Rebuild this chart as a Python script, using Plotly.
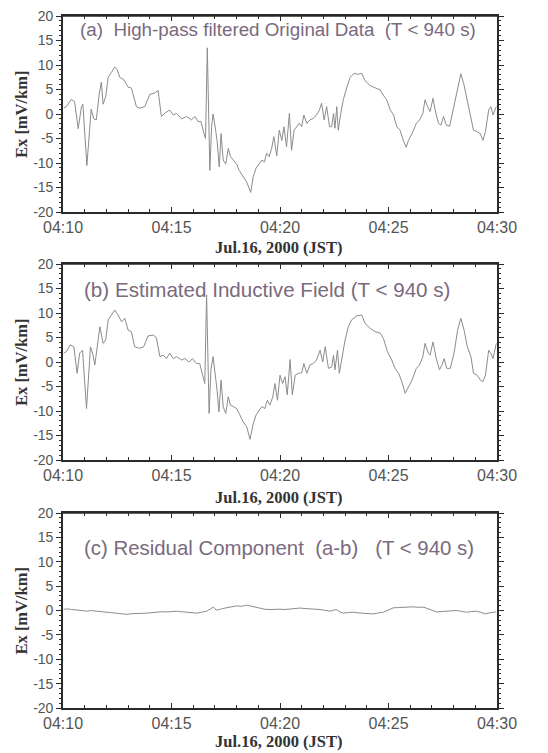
import pandas as pd
import plotly.graph_objects as go

# ---------------- data (seconds after 04:10:00 JST, Ex in mV/km) ----------------
t_a = [2, 9, 23, 32, 42, 51, 55, 66, 78, 85, 92, 100, 106, 111, 118, 125, 134, 143, 150, 157,
       168, 180, 189, 203, 212, 226, 240, 254, 263, 272, 282, 295, 305, 314, 328, 342, 355, 365, 374, 381,
       390, 394, 399, 402, 406, 411, 415, 420, 426, 432, 437, 443, 450, 457, 463, 471, 480, 487, 498, 508,
       519, 526, 534, 543, 550, 557, 563, 570, 577, 583, 591, 598, 605, 611, 618, 626, 632, 639, 646, 653,
       660, 666, 674, 683, 692, 701, 709, 715, 722, 729, 737, 743, 748, 752, 757, 761, 768, 775, 785, 794,
       805, 814, 826, 835, 849, 863, 877, 886, 895, 905, 914, 923, 932, 941, 949, 955, 965, 977, 986, 995,
       1001, 1008, 1015, 1023, 1029, 1038, 1045, 1052, 1060, 1069, 1080, 1091, 1100, 1108, 1117, 1126, 1135, 1145, 1154, 1161,
       1168, 1177, 1183, 1189, 1198]
ex_a = [1.2, 1.5, 3.0, 2.5, -3.0, 1.5, 2.0, -10.5, 1.0, -1.0, -1.2, 4.0, 6.5, 2.0, 3.5, 7.5, 8.5, 9.6, 9.0, 7.5,
        7.0, 5.5, 5.3, 1.5, 1.2, 1.5, 4.0, 4.3, 4.8, -0.5, 0.2, 0.8, -0.2, 0.1, -1.0, -0.5, -1.2, -0.5, -1.6, -1.5,
        -4.0, -5.0, 13.5, 4.0, -11.5, -2.5, 0.0, -2.3, -5.4, -10.8, -4.0, -9.4, -10.2, -7.0, -8.7, -9.4, -10.2, -11.5, -12.8, -13.9,
        -16.0, -12.8, -11.0, -10.2, -9.4, -9.8, -8.0, -8.7, -7.0, -4.6, -8.5, -3.3, -5.4, -2.6, -6.7, 0.1, -7.4, -3.3, -2.6, -1.9,
        -2.6, -0.2, -1.9, -1.2, -0.9, -0.2, 0.8, 2.2, -1.2, 1.5, -2.6, -2.6, 0.1, -2.9, 1.5, -3.3, 0.1, 2.9, 5.5, 7.5,
        8.3, 8.1, 8.3, 6.8, 5.8, 5.3, 4.9, 3.8, 2.9, 0.8, -0.2, -2.6, -3.3, -5.4, -6.8, -5.4, -4.0, -1.9, -1.2, 0.1,
        2.9, 1.5, 0.5, 3.2, 0.8, -1.9, -2.3, -0.5, -2.3, -2.5, 1.5, 5.5, 8.2, 6.2, 2.9, 0.1, -3.3, -3.6, -4.0, -5.4,
        -3.6, 0.8, 1.5, -0.2, 1.5]

t_b = [2, 9, 20, 30, 39, 46, 54, 65, 76, 83, 88, 97, 102, 111, 118, 125, 134, 143, 152, 162,
       171, 180, 189, 198, 212, 223, 235, 249, 258, 268, 277, 286, 295, 305, 314, 328, 337, 349, 358, 369,
       378, 388, 392, 397, 400, 404, 409, 415, 420, 426, 431, 437, 443, 450, 457, 463, 471, 480, 487, 498,
       508, 517, 526, 534, 543, 550, 558, 565, 572, 580, 586, 593, 600, 607, 614, 620, 628, 634, 642, 651,
       660, 666, 674, 683, 692, 701, 711, 718, 725, 734, 743, 748, 752, 759, 764, 771, 780, 789, 798, 812,
       826, 835, 849, 863, 877, 886, 897, 909, 918, 928, 937, 946, 955, 965, 977, 986, 995, 1001, 1010, 1015,
       1023, 1032, 1041, 1048, 1054, 1061, 1071, 1082, 1091, 1100, 1109, 1118, 1128, 1135, 1145, 1154, 1161, 1168, 1177, 1183,
       1189, 1198]
ex_b = [1.8, 2.1, 3.5, 3.1, -2.3, 1.8, 2.4, -9.5, 3.1, 1.4, -0.6, 5.2, 7.2, 3.8, 4.5, 8.6, 9.6, 10.6, 9.6, 8.2,
        8.9, 6.5, 6.2, 3.1, 2.8, 3.1, 5.3, 5.5, 5.0, 1.1, 1.4, 0.7, 1.8, 0.7, 1.1, 0.4, 0.7, 0.0, 0.7, -0.3,
        -0.3, -3.7, -4.4, 13.7, 4.5, -10.5, -1.6, 1.1, -2.0, -5.7, -10.2, -3.7, -9.2, -10.5, -7.1, -8.8, -9.1, -9.5, -10.5, -12.2,
        -13.2, -15.8, -12.6, -10.8, -9.8, -9.1, -9.5, -7.8, -8.8, -7.1, -4.4, -7.8, -2.7, -4.4, -3.0, -6.7, 0.5, -6.7, -2.7, -2.3,
        -2.2, -0.3, -2.3, -0.6, -0.3, 0.4, 2.4, 0.0, 3.1, -1.3, -1.0, 1.4, -1.6, 2.4, -2.3, 1.1, 4.5, 7.2, 8.6, 9.4,
        9.6, 7.9, 6.9, 6.2, 5.9, 4.8, 2.1, 0.4, -1.3, -2.3, -4.0, -6.4, -5.0, -3.7, -1.3, -0.6, 1.1, 3.8, 1.8, 1.4,
        4.1, 0.7, -1.6, -0.6, 0.7, -1.3, -1.3, 2.1, 6.5, 8.9, 6.5, 3.1, 1.1, -2.3, -2.7, -3.7, -4.0, -2.7, 2.4, 1.8,
        0.7, 3.8]

t_c = [2, 10, 24, 38, 52, 65, 79, 93, 107, 121, 134, 148, 162, 176, 190, 204, 217, 231, 245, 259,
       273, 287, 300, 314, 328, 342, 356, 370, 383, 397, 407, 416, 423, 430, 441, 453, 466, 480, 494, 508,
       517, 526, 535, 545, 558, 572, 586, 600, 614, 628, 641, 655, 669, 683, 697, 711, 724, 738, 748, 757,
       766, 775, 789, 803, 816, 830, 844, 858, 872, 886, 900, 913, 927, 941, 955, 969, 982, 996, 1006, 1015,
       1024, 1033, 1047, 1061, 1075, 1089, 1102, 1116, 1130, 1144, 1156, 1167, 1178, 1190, 1198]
ex_c = [0.2, 0.35, 0.2, 0.15, 0.0, -0.15, 0.0, -0.15, -0.3, -0.35, -0.45, -0.55, -0.7, -0.8, -0.65, -0.7, -0.6, -0.55, -0.4, -0.4,
        -0.25, -0.3, -0.2, -0.15, -0.25, -0.35, -0.5, -0.55, -0.35, -0.15, 0.3, 0.7, 0.1, 0.15, 0.4, 0.55, 0.7, 0.95, 0.85, 1.1,
        0.95, 0.8, 0.5, 0.35, 0.25, 0.2, 0.3, 0.27, 0.2, 0.35, 0.4, 0.5, 0.4, 0.35, 0.3, 0.2, 0.05, -0.15, 0.1, 0.15,
        -0.3, -0.55, -0.4, -0.35, -0.5, -0.55, -0.6, -0.7, -0.5, -0.35, 0.1, 0.55, 0.6, 0.7, 0.8, 0.75, 0.65, 0.7, 0.45, 0.15,
        -0.1, -0.3, -0.2, -0.15, -0.05, 0.0, -0.2, -0.35, -0.2, -0.15, -0.4, -0.7, -0.5, -0.35, -0.3]

panel_titles = ["(a)  High-pass filtered Original Data  (T < 940 s)",
                "(b) Estimated Inductive Field (T < 940 s)",
                "(c) Residual Component  (a-b)   (T < 940 s)"]
x_tick_labels = ["04:10", "04:15", "04:20", "04:25", "04:30"]
y_ticks = [-20, -15, -10, -5, 0, 5, 10, 15, 20]
x_title = "Jul.16, 2000 (JST)"
y_title = "Ex [mV/km]"

# ---------------- figure ----------------
base = pd.Timestamp("2000-07-16 04:10:00")
def to_time(secs):
    return base + pd.to_timedelta(secs, unit="s")

x_tick_vals = [base + pd.Timedelta(minutes=5 * i) for i in range(5)]
x_range = [base, base + pd.Timedelta(minutes=20)]

W, H = 548, 753
L_PG, R_PG = 63, 497
panels_pg = [(16, 212), (264, 460), (513, 708)]
ML, MR = L_PG, W - R_PG
MT, MB = panels_pg[0][0], H - panels_pg[-1][1]
PH = H - MT - MB
PW = W - ML - MR
def py(p):  # pixel y -> paper
    return 1 - (p - MT) / PH
def px(p):
    return (p - ML) / PW

fig = go.Figure()
line_col = "#8c8c8c"
axis_col = "#2a2a2a"
tick_font_y = dict(family="Arial, Liberation Sans, sans-serif", size=14, color="#555555")
tick_font_x = dict(family="Arial, Liberation Sans, sans-serif", size=16, color="#555555")
title_font = dict(family="Liberation Serif, Times New Roman, serif", size=16.5, color="#333333")

layout = dict(width=W, height=H, margin=dict(l=ML, r=MR, t=MT, b=MB),
              paper_bgcolor="white", plot_bgcolor="white", showlegend=False)

series = [(t_a, ex_a), (t_b, ex_b), (t_c, ex_c)]
for i, (t, v) in enumerate(series):
    sfx = "" if i == 0 else str(i + 1)
    fig.add_trace(go.Scatter(x=to_time(t), y=v, mode="lines",
                             line=dict(color=line_col, width=1),
                             xaxis="x" + sfx, yaxis="y" + sfx, showlegend=False))
    top, bot = panels_pg[i]
    layout["xaxis" + sfx] = dict(
        type="date", range=x_range, domain=[0, 1], anchor="y" + sfx,
        tickmode="array", tickvals=x_tick_vals, ticktext=x_tick_labels,
        ticks="inside", ticklen=5, tickwidth=1.2, tickcolor=axis_col,
        minor=dict(dtick=60000, ticks="inside", ticklen=3, tickcolor=axis_col, showgrid=False),
        showline=True, linecolor=axis_col, linewidth=1.6, mirror="ticks",
        showgrid=False, zeroline=False, automargin=False, tickfont=tick_font_x,
    )
    layout["yaxis" + sfx] = dict(
        anchor="x" + sfx, domain=[py(bot), py(top)], range=[-20, 20],
        tickmode="array", tickvals=y_ticks, ticktext=[str(v) for v in y_ticks],
        ticks="outside", ticklen=5, tickwidth=1.2, tickcolor=axis_col,
        minor=dict(dtick=1, ticks="outside", ticklen=2, tickcolor=axis_col, showgrid=False),
        showline=True, linecolor=axis_col, linewidth=1.6, mirror="ticks",
        showgrid=False, zeroline=False, tickfont=tick_font_y, automargin=False,
    )
    # top edge of the panel frame (paper refs, so it is never clipped)
    fig.add_shape(type="line", xref="paper", yref="paper",
                  x0=0, x1=1, y0=py(top), y1=py(top),
                  line=dict(color=axis_col, width=1.6), layer="above")
fig.update_layout(**layout)

# panel captions
ann_col = "#7a6a7e"
ann_pos = [(78, 29, 18.8), (82, 289, 20.6), (82, 548, 20.4)]
for txt, (ax, ay, fs) in zip(panel_titles, ann_pos):
    fig.add_annotation(text=txt, xref="paper", yref="paper", x=px(ax), y=py(ay),
                       xanchor="left", yanchor="middle", showarrow=False,
                       font=dict(family="Arial, Liberation Sans, sans-serif", size=fs, color=ann_col))

# axis titles
x_title_gap = [36, 37, 33]
for (top, bot), gap in zip(panels_pg, x_title_gap):
    fig.add_annotation(text="<b>" + y_title + "</b>", xref="paper", yref="paper",
                       x=px(21), y=py((top + bot) / 2), textangle=-90,
                       xanchor="center", yanchor="middle", showarrow=False, font=title_font)
    fig.add_annotation(text="<b>" + x_title + "</b>", xref="paper", yref="paper",
                       x=px(278), y=py(bot + gap),
                       xanchor="center", yanchor="middle", showarrow=False, font=title_font)

fig.write_html("out.html", config={"displayModeBar": False},
               post_script="document.body.style.margin='0';document.body.style.overflow='hidden';")
